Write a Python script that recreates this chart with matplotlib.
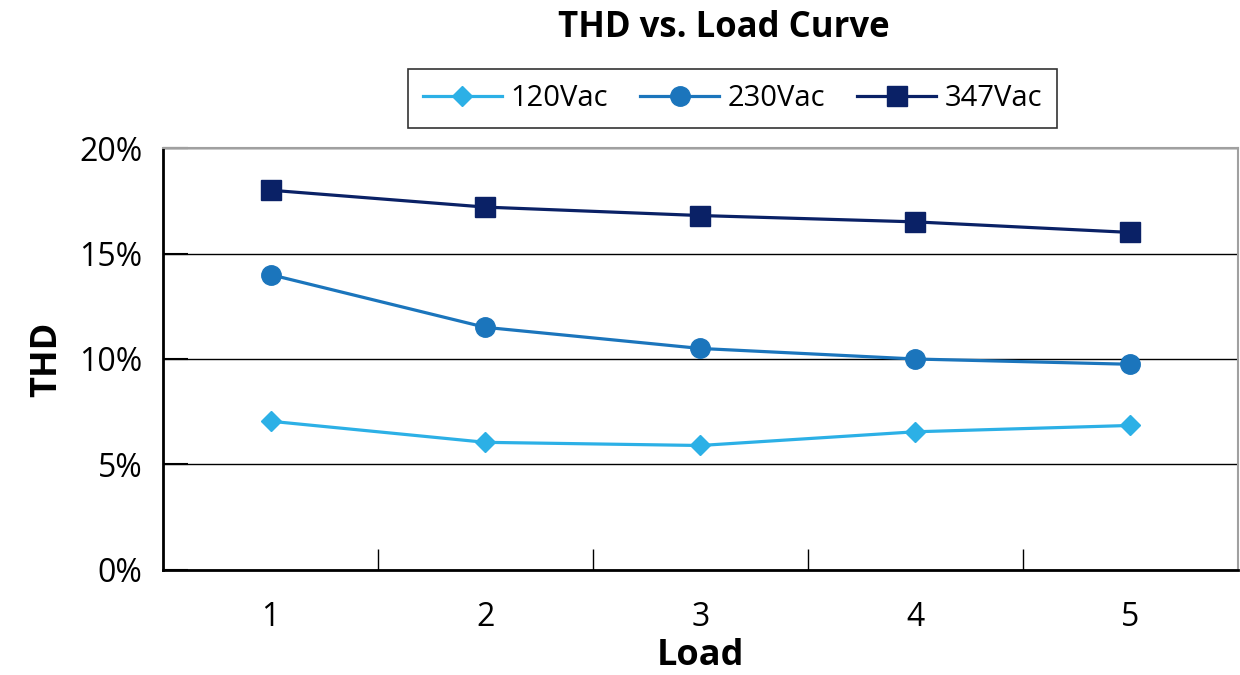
import matplotlib.pyplot as plt
from matplotlib.ticker import FuncFormatter

# Data
loads = [1, 2, 3, 4, 5]
thd_120 = [7.05, 6.05, 5.9, 6.55, 6.85]
thd_230 = [14.0, 11.5, 10.5, 10.0, 9.75]
thd_347 = [18.0, 17.2, 16.8, 16.5, 16.0]

plt.rcParams['font.family'] = ['Open Sans', 'DejaVu Sans']

fig = plt.figure(figsize=(12.4, 6.75), dpi=100)
ax = fig.add_axes([0.1315, 0.1556, 0.8665, 0.6251])

ax.plot(loads, thd_120, color='#2CB0E6', lw=2.3, marker='D', ms=10, label='120Vac')
ax.plot(loads, thd_230, color='#1B75BC', lw=2.3, marker='o', ms=14, label='230Vac')
ax.plot(loads, thd_347, color='#0A2166', lw=2.3, marker='s', ms=14, label='347Vac')

ax.set_xlim(0.5, 5.5)
ax.set_ylim(0, 20)
ax.set_yticks([0, 5, 10, 15, 20])
ax.yaxis.set_major_formatter(FuncFormatter(lambda v, p: f'{v:.0f}%'))
ax.set_xticks(loads)
ax.set_xticks([1.5, 2.5, 3.5, 4.5], minor=True)
ax.tick_params(axis='x', which='major', length=0, labelsize=23, pad=22)
ax.tick_params(axis='x', which='minor', direction='in', length=15, width=1)
ax.tick_params(axis='y', direction='in', length=18, width=1.5, labelsize=23, pad=15)
ax.grid(axis='y', color='black', lw=1)
ax.set_axisbelow(True)

for side in ['top', 'right']:
    ax.spines[side].set_color('#A0A0A0')
    ax.spines[side].set_linewidth(1.5)
for side in ['left', 'bottom']:
    ax.spines[side].set_color('black')
    ax.spines[side].set_linewidth(2)

ax.set_xlabel('Load', fontsize=26, fontweight='bold', labelpad=3)
ax.set_ylabel('THD', fontsize=26, fontweight='bold', labelpad=10)
fig.text(0.584, 0.958, 'THD vs. Load Curve', fontsize=25, fontweight='bold',
         ha='center', va='center')

leg = fig.legend(loc='center', bbox_to_anchor=(0.591, 0.854), ncol=3, fontsize=21,
                 frameon=True, fancybox=False, edgecolor='black', handlelength=2.7,
                 handletextpad=0.3, columnspacing=1.1, borderpad=0.5)
leg.get_frame().set_linewidth(1.2)

plt.savefig('out.png')
